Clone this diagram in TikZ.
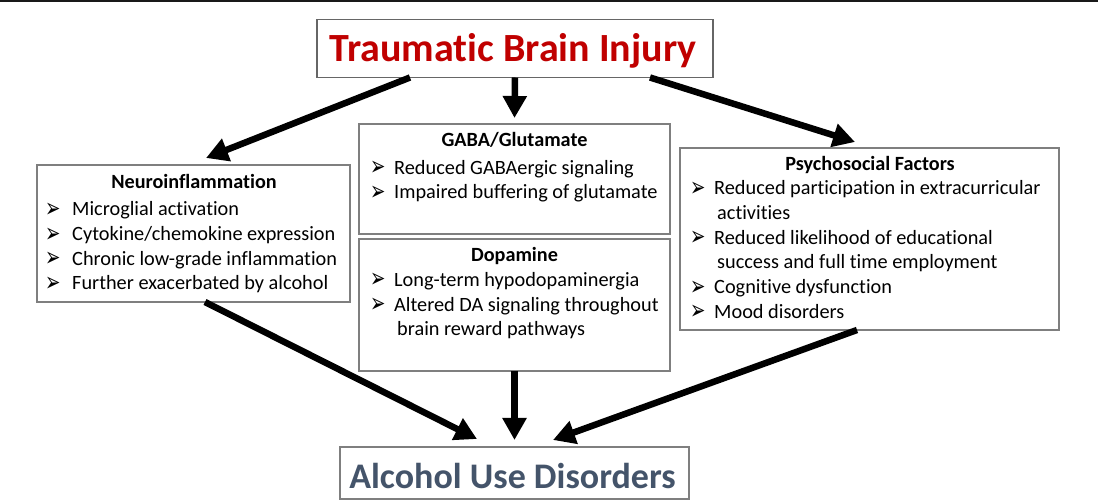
\documentclass[tikz,border=0pt]{standalone}
\usepackage{graphicx}
\usepackage{fontspec}
\setmainfont{Carlito}[Ligatures=NoCommon]
\newfontfamily\bulletfont{DejaVu Sans}
\usetikzlibrary{arrows.meta}
\definecolor{tbired}{HTML}{C00000}
\definecolor{audblue}{HTML}{44546A}
\definecolor{boxgray}{HTML}{7F7F7F}
\tikzset{
  box/.style={draw=boxgray, line width=1.4pt, inner sep=0pt, outer sep=0pt, fill=white},
  txt/.style={inner sep=0pt, anchor=base west, font=\fontsize{20.3}{24}\selectfont},
  ttl/.style={inner sep=0pt, anchor=base, font=\fontsize{20.2}{24}\selectfont\bfseries},
  bul/.style={inner sep=0pt, anchor=base west, font=\bulletfont\fontsize{27}{30}\selectfont},
  arr/.style={line width=6.5pt, -{Triangle[length=22pt,width=23pt]}}
}
\newcommand{\itm}[5]{%
  \node[bul] (#1b) at (#2,#4+1.5) {\scalebox{0.68}[1]{➢}};
  \node[txt] (#1) at (#3,#4) {#5};}
\newcommand{\cnt}[4]{\node[txt] (#1) at (#2,#3) {#4};}
\begin{document}
\begin{tikzpicture}[x=1pt,y=-1pt]
\fill[white] (0,0) rectangle (1098,502);
\useasboundingbox (0,0) rectangle (1098,502);
\fill[black!90] (0,0) rectangle (1098,2.5);

% boxes
\node[box, draw=black!60, line width=1.8pt, minimum width=396pt, minimum height=58pt] (tbi) at (515,48.5) {};
\node[inner sep=0pt, anchor=base, font=\fontsize{40}{48}\selectfont\bfseries, text=tbired] (tbit) at (513,62) {Traumatic Brain Injury};

\node[box, minimum width=313pt, minimum height=137pt] (neuro) at (193.5,233.5) {};
\node[box, minimum width=311pt, minimum height=110pt] (gaba) at (514.5,179) {};
\node[box, minimum width=311pt, minimum height=132pt] (dopa) at (514.5,305) {};
\node[box, minimum width=379pt, minimum height=182pt] (psycho) at (869.5,239) {};

\node[box, minimum width=349pt, minimum height=52pt] (aud) at (514.5,473) {};
\node[inner sep=0pt, anchor=base, font=\fontsize{36}{43}\selectfont\bfseries, text=audblue] (audt) at (512.5,488) {Alcohol Use Disorders};

% Neuroinflammation
\node[ttl] (neurot) at (194,189) {Neuroinflammation};
\itm{n1}{45}{72}{216}{Microglial activation}
\itm{n2}{45}{72}{240.7}{Cytokine/chemokine expression}
\itm{n3}{45}{72}{265.4}{Chronic low-grade inflammation}
\itm{n4}{45}{72}{290}{Further exacerbated by alcohol}

% GABA
\node[ttl] (gabat) at (514.5,146.7) {GABA/Glutamate};
\itm{g1}{370}{394}{174.2}{Reduced GABAergic signaling}
\itm{g2}{370}{394}{198.8}{Impaired buffering of glutamate}

% Dopamine
\node[ttl] (dopat) at (514.5,261.7) {Dopamine};
\itm{d1}{370}{394}{286.5}{Long-term hypodopaminergia}
\itm{d2}{370}{394}{311.2}{Altered DA signaling throughout}
\cnt{d2c}{397}{336}{brain reward pathways}

% Psychosocial
\node[ttl] (psychot) at (870,171) {Psychosocial Factors};
\itm{p1}{690}{714}{195}{Reduced participation in extracurricular}
\cnt{p1c}{717}{219.7}{activities}
\itm{p2}{690}{714}{244.3}{Reduced likelihood of educational}
\cnt{p2c}{717}{269}{success and full time employment}
\itm{p3}{690}{714}{293.8}{Cognitive dysfunction}
\itm{p4}{690}{714}{318.3}{Mood disorders}

% arrows
\draw[arr] ([xshift=-105pt]tbi.south) -- ([xshift=12.5pt,yshift=7pt]neuro.north);
\draw[arr] (tbi.south) -- ([yshift=6pt]gaba.north);
\draw[arr] ([xshift=135pt]tbi.south) -- ([xshift=-14.5pt,yshift=6pt]psycho.north);
\draw[arr] ([xshift=11.5pt]neuro.south) -- ([xshift=-37.5pt,yshift=8pt]aud.north);
\draw[arr] (dopa.south) -- ([yshift=7pt]aud.north);
\draw[arr] ([xshift=-12.5pt]psycho.south) -- ([xshift=38.5pt,yshift=7pt]aud.north);
\end{tikzpicture}
\end{document}
